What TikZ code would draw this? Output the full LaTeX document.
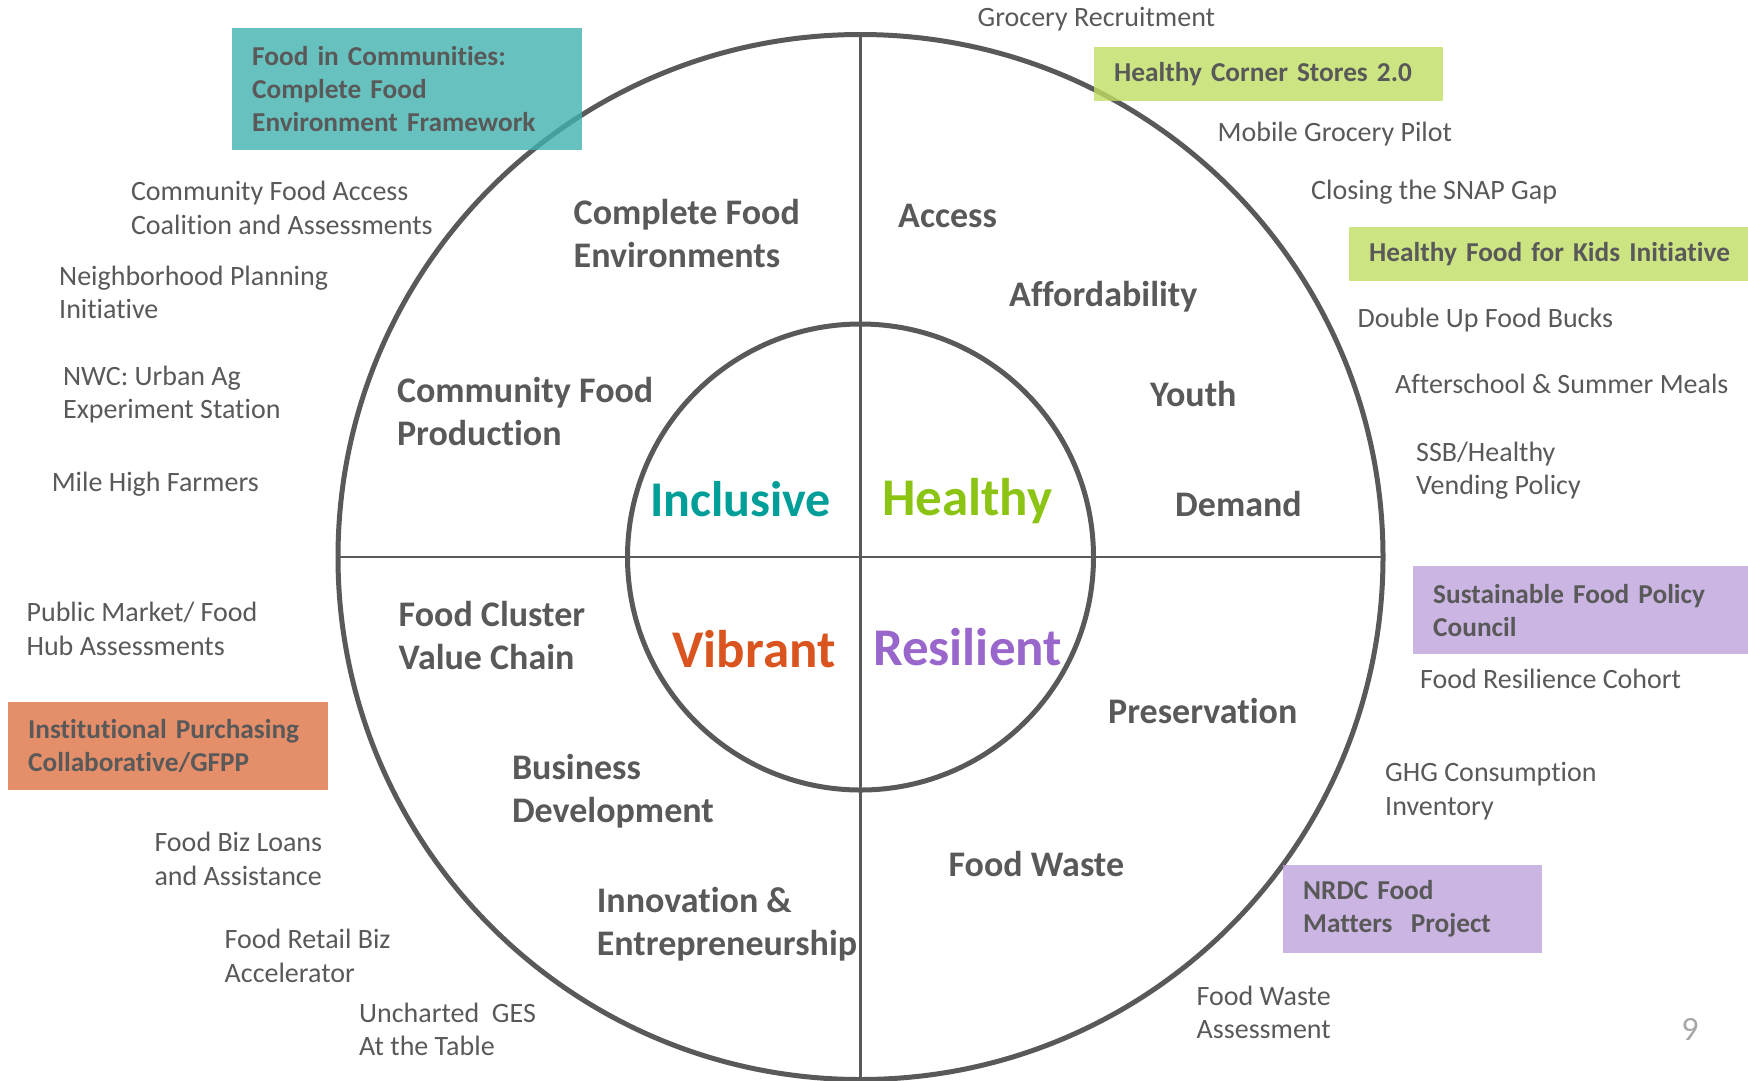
\documentclass[tikz,border=0pt]{standalone}
\usepackage{fontspec}
\setmainfont{Carlito}[Ligatures=NoCommon]
\usetikzlibrary{positioning}
\definecolor{ringgray}{HTML}{595959}
\definecolor{txtgray}{HTML}{595959}
\definecolor{tealbox}{RGB}{65,178,174}
\definecolor{limebox}{RGB}{193,221,99}
\definecolor{orangebox}{RGB}{223,114,69}
\definecolor{lilacbox}{RGB}{190,163,219}
\definecolor{inclcol}{RGB}{0,158,152}
\definecolor{healcol}{RGB}{140,196,20}
\definecolor{vibrcol}{RGB}{217,84,30}
\definecolor{resicol}{RGB}{153,102,204}
\tikzset{
    ring/.style={draw=ringgray, line width=5pt},
    cross/.style={draw=ringgray, line width=2.2pt},
    item/.style={anchor=west, inner sep=0pt, align=left, text=txtgray, font=\fontsize{28}{33.5}\selectfont},
    theme/.style={anchor=west, inner sep=0pt, align=left, text=txtgray, font=\bfseries\fontsize{36}{43}\selectfont},
    value/.style={anchor=west, inner sep=0pt, font=\bfseries\fontsize{53}{60}\selectfont},
    tagbox/.style={anchor=north west, inner xsep=20pt, inner ysep=0pt, align=left, text=txtgray,
        fill opacity=0.8, text opacity=1, font=\bfseries\fontsize{27.3}{33}\selectfont},
}

\begin{document}
\begin{tikzpicture}[x=1pt, y=-1pt]
        \useasboundingbox (0,0) rectangle (1748,1080);
        \coordinate (c) at (860.5,557);
        \coordinate (n) at (860.5,34.5);
        \coordinate (s) at (860.5,1079.5);
        \coordinate (w) at (338,557);
        \coordinate (e) at (1383,557);

        % rings and cross
        \draw[cross] (n) -- (s);
        \draw[cross] (w) -- (e);
        \draw[ring] (c) circle[radius=522.5];
        \draw[ring] (c) circle[radius=233];

        % centre words
        \node[value, text=inclcol, font=\bfseries\fontsize{50}{60}\selectfont] (incl) at (650,498.7) {Inclusive};
        \node[value, text=healcol] (heal) at (882,501) {Healthy};
        \node[value, text=vibrcol] (vibr) at (672.3,649.5) {Vibrant};
        \node[value, text=resicol] (resi) at (872.8,646.8) {Resilient};

        % themes in the ring
        \node[theme] (cfe) at (573.5,233.7) {Complete Food\\Environments};
        \node[theme] (cfp) at (396.8,411.5) {Community Food\\Production};
        \node[theme] (fcv) at (398.5,635) {Food Cluster\\Value Chain};
        \node[theme] (bdev) at (511.8,791) {Business\\Development};
        \node[theme] (inno) at (596.6,924) {Innovation \&\\Entrepreneurship};
        \node[theme] (acc) at (898,216.3) {Access};
        \node[theme] (aff) at (1009,296.2) {Affordability};
        \node[theme] (yth) at (1150,393.7) {Youth};
        \node[theme] (dem) at (1175,503.5) {Demand};
        \node[theme] (pres) at (1108,710.5) {Preservation};
        \node[theme] (fw) at (948.4,863.7) {Food Waste};

        % highlighted projects
        \node[tagbox, fill=tealbox, minimum width=350pt, minimum height=122pt, text width=310pt]
            (fic) at (232,28) {Food in Communities:\\Complete Food\\Environment Framework};
        \node[tagbox, fill=limebox, minimum width=349pt, minimum height=54pt, text width=309pt]
            (hcs) at (1094,47) {Healthy Corner Stores 2.0};
        \node[tagbox, fill=limebox, minimum width=401pt, minimum height=54pt, text width=361pt]
            (hfk) at (1349,227) {Healthy Food for Kids Initiative};
        \node[tagbox, fill=orangebox, minimum width=320pt, minimum height=88pt, text width=280pt]
            (ipc) at (8,702) {Institutional Purchasing\\Collaborative/GFPP};
        \node[tagbox, fill=lilacbox, minimum width=337pt, minimum height=88pt, text width=297pt]
            (sfp) at (1413,566) {Sustainable Food Policy\\Council};
        \node[tagbox, fill=lilacbox, minimum width=259pt, minimum height=88pt, text width=219pt]
            (nrdc) at (1283,865) {NRDC Food\\Matters~ Project};

        % other projects
        \node[item] (gr) at (977.5,19) {Grocery Recruitment};
        \node[item] (mgp) at (1217.4,134.3) {Mobile Grocery Pilot};
        \node[item] (snap) at (1311,191.8) {Closing the SNAP Gap};
        \node[item] (dufb) at (1357.5,319.6) {Double Up Food Bucks};
        \node[item] (asm) at (1395,384) {Afterschool \& Summer Meals};
        \node[item] (ssb) at (1416,470.6) {SSB/Healthy\\Vending Policy};
        \node[item] (frc) at (1420,678.8) {Food Resilience Cohort};
        \node[item] (ghg) at (1385,791) {GHG Consumption\\Inventory};
        \node[item] (fwa) at (1196.5,1012.3) {Food Waste\\Assessment};
        \node[item] (cfa) at (130.8,207.8) {Community Food Access\\Coalition and Assessments};
        \node[item] (npi) at (59,292.3) {Neighborhood Planning\\Initiative};
        \node[item] (nwc) at (62.9,394.7) {NWC: Urban Ag\\Experiment Station};
        \node[item] (mhf) at (51.6,484) {Mile High Farmers};
        \node[item] (pmf) at (26.4,629) {Public Market/ Food\\Hub Assessments};
        \node[item] (fbl) at (154.3,859) {Food Biz Loans\\and Assistance};
        \node[item] (frb) at (224.5,956) {Food Retail Biz\\Accelerator};
        \node[item] (ges) at (359,1029.5) {Uncharted~ GES\\At the Table};

        \node[text=black!35, font=\fontsize{34}{40}\selectfont] (pg) at (1690,1029) {9};
    \end{tikzpicture}
\end{document}
